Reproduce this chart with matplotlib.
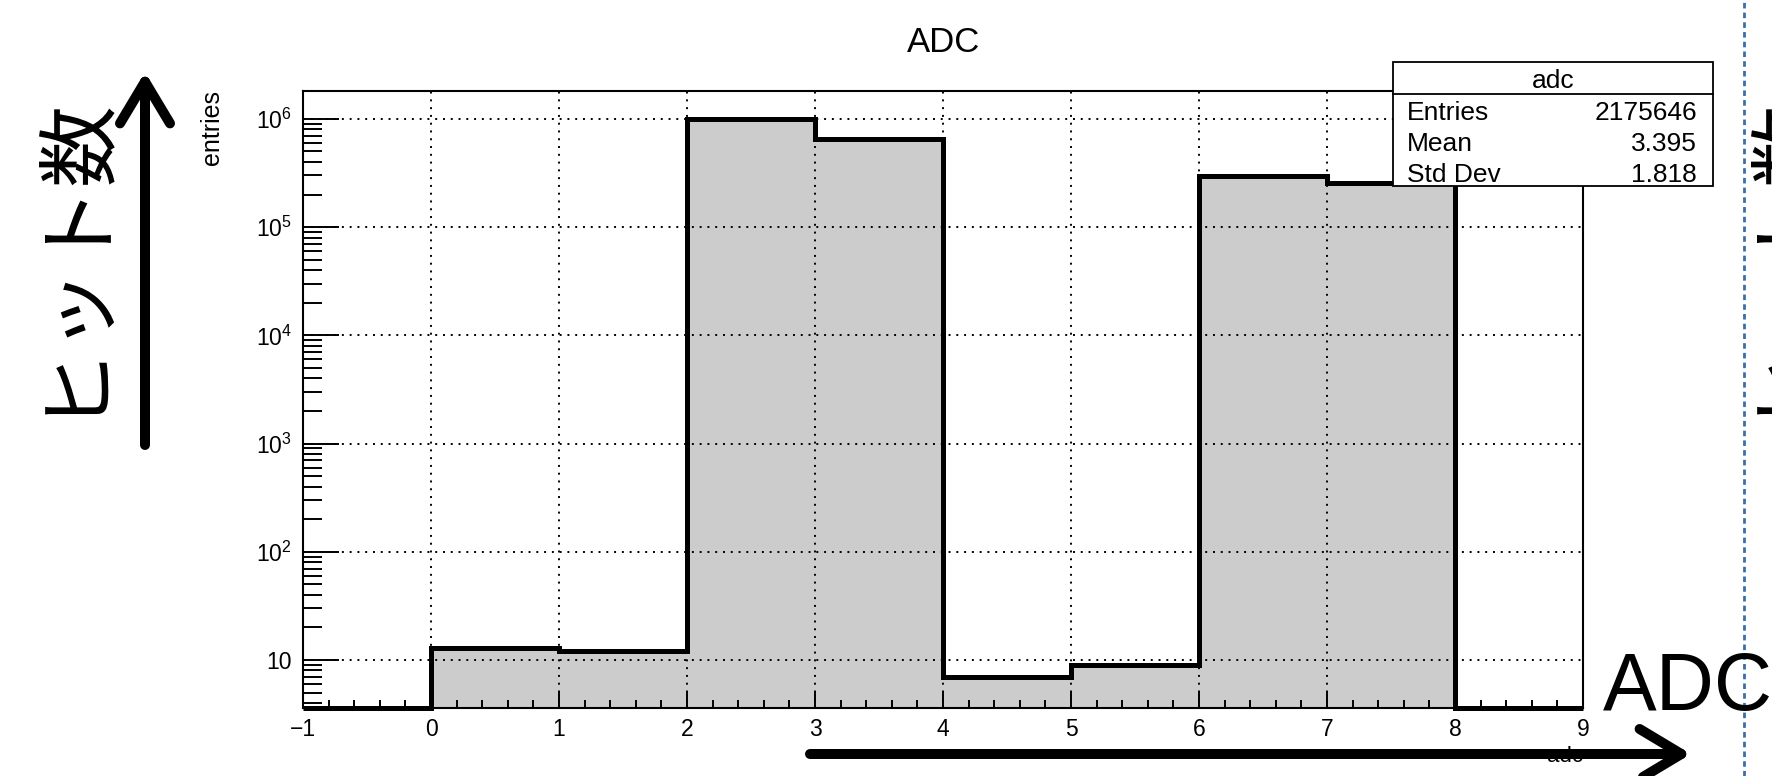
import numpy as np
import matplotlib.pyplot as plt
from matplotlib.ticker import FixedLocator, MultipleLocator, LogLocator, FuncFormatter, NullFormatter
from matplotlib.lines import Line2D
from matplotlib.patches import Rectangle

plt.rcParams['font.family'] = ['Liberation Sans', 'Noto Sans CJK JP', 'DejaVu Sans']
plt.rcParams['mathtext.fontset'] = 'custom'
plt.rcParams['mathtext.rm'] = 'Liberation Sans'

# histogram "adc" (ROOT TH1)
bin_edges = [-1, 0, 1, 2, 3, 4, 5, 6, 7, 8, 9]
counts = [0, 13, 12, 1.0e6, 6.5e5, 7, 9, 2.95e5, 2.55e5, 0]
x_ticks = [-1, 0, 1, 2, 3, 4, 5, 6, 7, 8, 9]

stat_names = ['Entries', 'Mean', 'Std Dev']
stat_values = ['2175646', '3.395', '1.818']

ymin, ymax = 3.6, 1.81e6

W, H = 1772, 776
fig = plt.figure(figsize=(W / 100, H / 100), dpi=100)


def fx(x):
    return x / W


def fy(y):
    return 1 - y / H


ax = fig.add_axes([fx(303), fy(708), fx(1583) - fx(303), fy(91) - fy(708)])
ax.set_yscale('log')
ax.set_xlim(bin_edges[0], bin_edges[-1])
ax.set_ylim(ymin, ymax)

# empty bins are drawn on the floor of the log axis, like ROOT does
shown = np.maximum(np.array(counts, dtype=float), ymin)
ax.stairs(shown, bin_edges, baseline=ymin, fill=True, color='#cccccc', zorder=1)
ax.stairs(shown, bin_edges, baseline=ymin, color='black', lw=3.6, zorder=3, clip_on=False)

ax.set_axisbelow(False)
ax.grid(True, which='major', color='black', lw=1.4, linestyle=(0, (1, 3)))

ax.xaxis.set_major_locator(FixedLocator(x_ticks))
ax.xaxis.set_minor_locator(MultipleLocator(0.2))
ax.yaxis.set_major_locator(LogLocator(base=10))
ax.yaxis.set_minor_locator(LogLocator(base=10, subs=np.arange(2, 10)))
ax.yaxis.set_minor_formatter(NullFormatter())


def ylab(v, _):
    k = int(round(np.log10(v)))
    return '10' if k == 1 else r'$\mathdefault{10^{%d}}$' % k


ax.yaxis.set_major_formatter(FuncFormatter(ylab))
ax.tick_params(which='both', direction='in', top=False, right=False, width=1.4, labelsize=16.5)
ax.tick_params(axis='x', which='major', length=11.5, pad=7)
ax.tick_params(axis='x', which='minor', length=6)
ax.tick_params(axis='y', which='major', length=26, pad=8)
ax.tick_params(axis='y', which='minor', length=14)
for s in ax.spines.values():
    s.set_linewidth(1.5)

# ROOT axis titles
fig.text(fx(212), fy(90), 'entries', rotation=90, ha='center', va='top', fontsize=18)
fig.text(fx(1583), fy(746), 'adc', ha='right', va='top', fontsize=16)
fig.text(fx(944), fy(52), 'ADC', ha='center', va='baseline', fontsize=25)

# stats box
bx0, bx1, by0, by1, bsep = 1393, 1713, 62, 186, 94
fig.add_artist(Rectangle((fx(bx0), fy(by1)), fx(bx1) - fx(bx0), fy(by0) - fy(by1),
                         transform=fig.transFigure, facecolor='white', edgecolor='black',
                         lw=1.3, zorder=5))
fig.add_artist(Line2D([fx(bx0), fx(bx1)], [fy(bsep), fy(bsep)], transform=fig.transFigure,
                      color='black', lw=1.3, zorder=6))
fig.text(fx((bx0 + bx1) / 2), fy(88), 'adc', ha='center', va='baseline', fontsize=19, zorder=7)
for i, (n, v) in enumerate(zip(stat_names, stat_values)):
    yb = 120 + i * 31
    fig.text(fx(1407), fy(yb), n, ha='left', va='baseline', fontsize=19, zorder=7)
    fig.text(fx(1697), fy(yb), v, ha='right', va='baseline', fontsize=19, zorder=7)

# slide annotations
fig.text(fx(69), fy(250), 'ヒット数', rotation=90, ha='center', va='center', fontsize=59)
fig.text(fx(1781), fy(250), 'ヒット数', rotation=90, ha='center', va='center', fontsize=59)
fig.text(fx(1603), fy(710), 'ADC', ha='left', va='baseline', fontsize=58)

arrow = dict(arrowstyle='->,head_length=3.0,head_width=1.8', lw=7.2, color='black',
             shrinkA=0, shrinkB=0, mutation_scale=10)
ax.annotate('', xy=(fx(145), fy(72)), xytext=(fx(145), fy(445)), xycoords='figure fraction',
            textcoords='figure fraction', arrowprops=arrow, annotation_clip=False)
ax.annotate('', xy=(fx(1691), fy(754)), xytext=(fx(810), fy(754)), xycoords='figure fraction',
            textcoords='figure fraction', arrowprops=arrow, annotation_clip=False)

fig.add_artist(Line2D([fx(1744), fx(1744)], [0, 1], transform=fig.transFigure,
                      color='#3b6fa8', lw=2, linestyle=(0, (2, 1.5))))

fig.savefig('out.png', dpi=100)
